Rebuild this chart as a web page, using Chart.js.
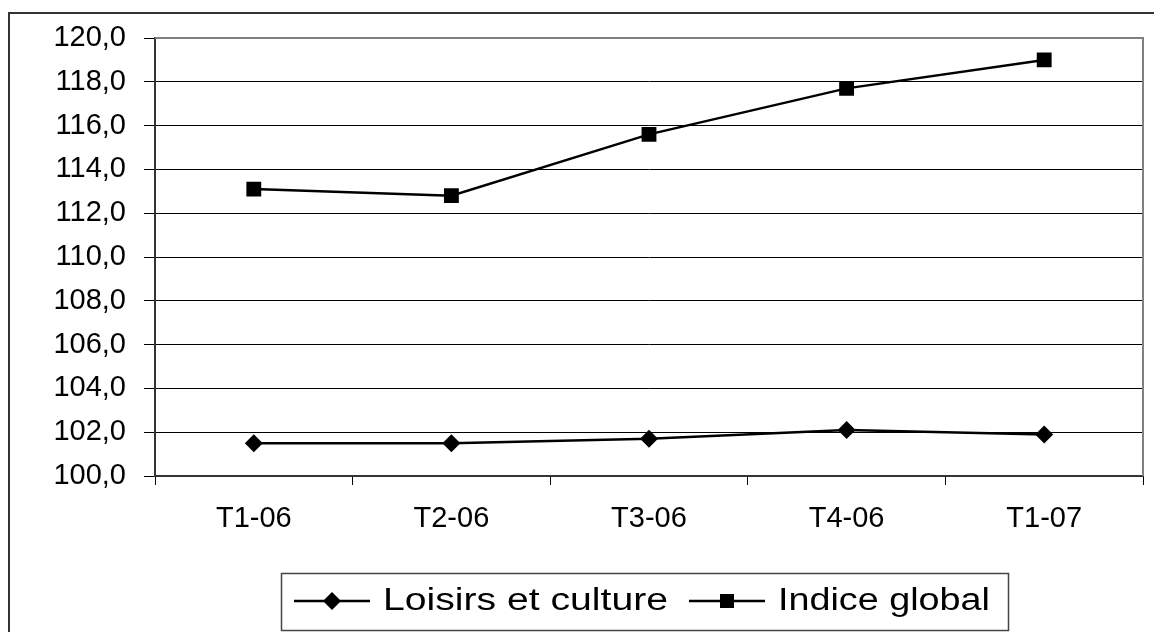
<!DOCTYPE html>
<html>
<head>
<meta charset="utf-8">
<script src="https://cdn.jsdelivr.net/npm/chart.js@4/dist/chart.umd.min.js"></script>
<style>
  html, body { margin: 0; padding: 0; background: #fff; }
  #wrap { width: 1154px; height: 632px; }
</style>
</head>
<body>
<div id="wrap"><canvas id="chart" width="1154" height="632"></canvas></div>
<script>
// data
const categories = ['T1-06', 'T2-06', 'T3-06', 'T4-06', 'T1-07'];
const loisirs = [101.5, 101.5, 101.7, 102.1, 101.9];
const indiceGlobal = [113.1, 112.8, 115.6, 117.7, 119.0];
const yMin = 100;
const yMax = 120;
const yStep = 2;

const FONT = "'Liberation Sans', Arial, sans-serif";

// frame, plot border and the boxed legend
const decor = {
  id: 'decor',
  beforeDatasetsDraw(chart) {
    const { ctx, chartArea: a } = chart;
    ctx.save();
    ctx.strokeStyle = '#808080';
    ctx.lineWidth = 2;
    ctx.beginPath();
    ctx.moveTo(a.left, a.top);
    ctx.lineTo(a.right, a.top);
    ctx.lineTo(a.right, a.bottom);
    ctx.stroke();
    ctx.restore();
  },
  afterDraw(chart) {
    const ctx = chart.ctx;
    ctx.save();
    // outer frame
    ctx.strokeStyle = '#333';
    ctx.lineWidth = 2;
    ctx.strokeRect(9, 13, 1200, 700);

    // legend box
    ctx.lineWidth = 1.5;
    ctx.strokeStyle = '#444';
    ctx.strokeRect(281.5, 573.5, 727, 57);

    const items = [
      { x1: 294, x2: 370, tx: 383, tw: 285, shape: 'diamond' },
      { x1: 689, x2: 765, tx: 778, tw: 212, shape: 'square' }
    ];
    const cy = 601;
    items.forEach((it, i) => {
      ctx.strokeStyle = '#000';
      ctx.fillStyle = '#000';
      ctx.lineWidth = 2.5;
      ctx.beginPath();
      ctx.moveTo(it.x1, cy);
      ctx.lineTo(it.x2, cy);
      ctx.stroke();
      const mx = (it.x1 + it.x2) / 2;
      ctx.beginPath();
      if (it.shape === 'diamond') {
        ctx.moveTo(mx, cy - 9);
        ctx.lineTo(mx + 9, cy);
        ctx.lineTo(mx, cy + 9);
        ctx.lineTo(mx - 9, cy);
        ctx.closePath();
      } else {
        ctx.rect(mx - 7, cy - 7, 14, 14);
      }
      ctx.fill();

      // stretched text, as in the original
      const label = chart.data.datasets[i].label;
      ctx.font = '31px ' + FONT;
      ctx.textBaseline = 'alphabetic';
      const w = ctx.measureText(label).width;
      ctx.save();
      ctx.translate(it.tx, 610);
      ctx.scale(it.tw / w, 1);
      ctx.fillText(label, 0, 0);
      ctx.restore();
    });
    ctx.restore();
  }
};

new Chart(document.getElementById('chart').getContext('2d'), {
  type: 'line',
  data: {
    labels: categories,
    datasets: [
      {
        label: 'Loisirs et culture',
        data: loisirs,
        borderColor: '#000',
        backgroundColor: '#000',
        borderWidth: 2.5,
        pointStyle: 'rectRot',
        pointRadius: 9,
        pointBorderWidth: 0,
        tension: 0
      },
      {
        label: 'Indice global',
        data: indiceGlobal,
        borderColor: '#000',
        backgroundColor: '#000',
        borderWidth: 2.5,
        pointStyle: 'rect',
        pointRadius: 10.5,
        pointBorderWidth: 0,
        tension: 0
      }
    ]
  },
  options: {
    responsive: false,
    animation: false,
    devicePixelRatio: 1,
    layout: { padding: { left: 0, top: 38, right: 11, bottom: 0 } },
    plugins: {
      legend: { display: false },
      tooltip: { enabled: false }
    },
    scales: {
      x: {
        offset: true,
        grid: {
          offset: true,
          drawOnChartArea: false,
          drawTicks: true,
          tickLength: 9,
          color: '#000',
          lineWidth: 1
        },
        border: { color: '#333', width: 2 },
        ticks: {
          color: '#000',
          font: { family: FONT, size: 29 },
          padding: 17,
          maxRotation: 0
        },
        afterFit(s) { s.height = 156; }
      },
      y: {
        min: yMin,
        max: yMax,
        grid: {
          color: '#000',
          lineWidth: 1,
          tickLength: 11
        },
        border: { color: '#333', width: 2 },
        ticks: {
          stepSize: yStep,
          color: '#000',
          font: { family: FONT, size: 29 },
          padding: 18,
          callback: v => v.toFixed(1).replace('.', ',')
        },
        afterFit(s) { s.width = 155; }
      }
    }
  },
  plugins: [decor]
});
</script>
</body>
</html>
